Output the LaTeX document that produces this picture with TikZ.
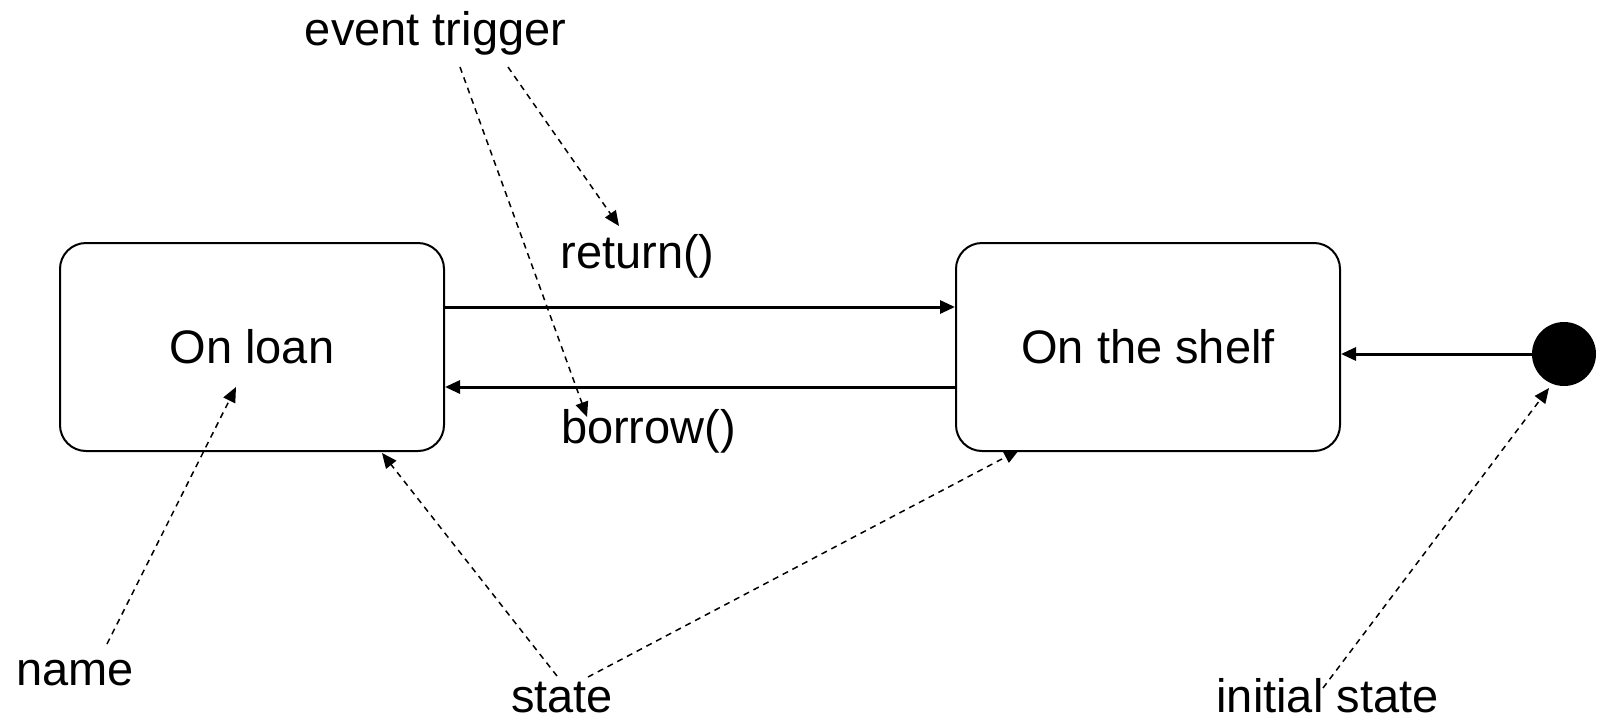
\documentclass[tikz,border=0pt]{standalone}
\usepackage{fontspec}
\setmainfont{Liberation Sans}
\usetikzlibrary{arrows.meta}
\begin{document}
\begin{tikzpicture}[x=0.5pt,y=-0.5pt,
  every node/.style={font=\fontsize{23.5pt}{28pt}\selectfont},
  statebox/.style={draw, line width=1pt, rounded corners=13pt, minimum width=192pt, minimum height=104pt, inner sep=0pt},
  lbl/.style={inner sep=0pt, anchor=base},
  flow/.style={line width=1.5pt, -{Triangle[length=7.5pt,width=6.5pt]}},
  note/.style={line width=0.75pt, dash pattern=on 3pt off 2.5pt, -{Triangle[length=7.5pt,width=6.5pt]}},
  initdot/.style={circle, fill=black, minimum size=32pt, inner sep=0pt}
]
\useasboundingbox (0,0) rectangle (1603,723);
% states
\node[statebox] (loan) at (252,347) {On loan};
\node[statebox] (shelf) at (1148,347) {On the shelf};
\node[initdot] (init) at (1564,354) {};
% labels
\node[lbl] (et) at (435.5,45) {event trigger};
\node[lbl] (ret) at (637.5,268) {return()};
\node[lbl] (bor) at (648.5,443) {borrow()};
\node[lbl] (name) at (75,685) {name};
\node[lbl] (st) at (562,712) {state};
\node[lbl] (ist) at (1327.5,712) {initial state};
% transitions
\draw[flow] ([yshift=20pt]loan.east) -- ([yshift=20pt]shelf.west);
\draw[flow] ([yshift=-20pt]shelf.west) -- ([yshift=-20pt]loan.east);
\draw[flow] (init.west) -- (shelf.east |- init.west);
% annotation end points
\coordinate (et1) at (460,67);
\coordinate (et2) at (508,67);
\coordinate (retT) at (619,226);
\coordinate (borT) at (587,417);
\coordinate (nameS) at (107,644);
\coordinate (nameT) at (236,387);
\coordinate (st1) at (557,676);
\coordinate (st2) at (588,677);
\coordinate (loanT) at (382,453);
\coordinate (shelfT) at (1019,450);
\coordinate (istS) at (1323,688);
\coordinate (initT) at (1549,388);
% annotations
\draw[note] (et2) -- (retT);
\draw[note] (et1) -- (borT);
\draw[note] (nameS) -- (nameT);
\draw[note] (st1) -- (loanT);
\draw[note] (st2) -- (shelfT);
\draw[note] (istS) -- (initT);
\end{tikzpicture}
\end{document}
